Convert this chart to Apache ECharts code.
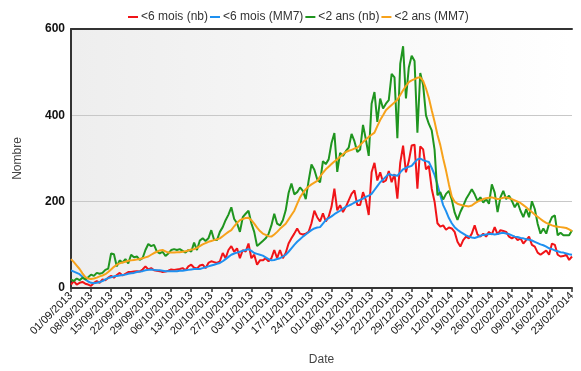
<!DOCTYPE html>
<html><head><meta charset="utf-8">
<script src="https://cdn.jsdelivr.net/npm/echarts@6/dist/echarts.min.js"></script>
<style>html,body{margin:0;padding:0;background:#fff}#c{width:581px;height:371px}</style>
</head><body><div id="c"></div>
<script>
// daily counts from 01/09/2013 to 23/02/2014 (176 days)
const startDate = [2013, 8, 1]; // year, monthIndex, day
const dayCount = 176;
const yTicks = [0, 200, 400, 600];
const seriesNames = ['<6 mois (nb)', '<6 mois (MM7)', '<2 ans (nb)', '<2 ans (MM7)'];

const under6nb = [8,16,8,12,14,10,8,5,12,16,12,20,18,24,28,24,30,35,29,33,37,37,38,39,38,43,50,43,46,41,
40,39,37,38,40,43,42,43,44,46,41,50,54,47,45,52,54,46,58,62,60,58,62,81,69,88,97,84,92,69,
88,84,103,69,77,54,64,64,69,62,69,88,69,88,69,81,103,115,126,138,126,124,126,130,150,179,164,154,173,154,
165,188,230,180,192,176,188,203,218,226,192,192,222,203,169,268,290,249,268,245,249,271,245,264,207,290,330,268,294,330,
332,230,328,321,275,283,230,200,150,142,145,135,140,138,130,107,96,111,119,115,126,145,124,119,126,119,130,124,141,124,
134,132,130,119,115,119,111,115,103,111,119,100,96,82,77,82,87,77,103,100,77,73,74,77,65,73];

const under6mm7 = [41,38,35,32,26,20,15,12,11,12,14,16,20,23,25,27,28,29,30,31,33,34,35,37,38,39,41,42,43,42,
41,41,40,39,39,39,39,39,40,40,41,42,43,44,44,44,46,48,50,52,54,56,58,62,67,72,77,80,82,84,
86,88,90,86,81,79,77,75,71,67,64,65,67,69,73,77,84,92,100,107,113,119,124,129,134,138,140,141,149,157,
162,166,171,175,179,184,188,191,194,198,201,204,207,211,214,218,227,236,245,251,258,264,262,261,260,268,275,278,281,283,
291,298,300,296,294,292,278,262,240,215,192,178,162,150,141,135,130,126,122,119,117,116,118,121,123,124,125,125,124,125,
127,128,126,125,122,119,118,116,115,113,112,110,107,104,101,99,96,92,90,87,85,83,82,80,78,77];

const under2nb = [20,16,22,18,24,20,25,31,28,35,33,35,42,45,80,78,50,64,59,67,57,77,71,73,65,69,88,102,97,100,
84,80,84,74,80,88,90,88,90,86,82,88,84,105,88,110,115,109,115,134,111,111,130,141,157,170,187,160,150,130,
164,172,179,150,130,97,103,109,115,125,145,172,149,145,157,180,220,242,217,222,233,225,206,248,286,274,252,245,294,287,
298,336,359,269,313,306,317,325,357,340,315,321,378,344,306,427,454,385,439,416,427,435,496,488,347,519,560,439,511,538,
526,360,498,470,400,380,365,320,215,222,205,218,225,205,175,158,176,190,206,217,229,217,202,210,198,206,195,240,221,176,
210,225,206,214,202,187,198,179,164,183,164,201,183,149,126,138,126,149,164,168,122,128,122,122,122,134];

const under2mm7 = [67,60,52,44,34,25,22,21,22,24,27,29,32,37,43,49,54,57,59,61,63,64,65,66,67,69,71,73,77,81,
84,87,88,85,82,82,82,83,83,84,85,87,89,90,93,97,101,104,107,109,111,113,115,120,125,130,134,143,151,157,
160,162,163,157,149,140,132,126,123,120,119,124,130,137,143,149,159,169,179,195,210,220,229,235,240,244,248,258,267,275,
281,287,293,298,304,310,315,318,320,323,325,331,338,344,350,355,360,375,389,400,412,418,424,430,436,447,458,468,477,481,
484,487,488,480,462,440,412,385,355,331,300,272,240,212,200,195,193,191,190,189,191,196,200,203,206,208,209,210,208,206,
207,209,210,208,206,203,200,197,192,187,181,176,170,165,160,155,151,148,145,143,142,141,140,139,136,132];

const colors = ['#f01418', '#1e90f0', '#1f951f', '#f7a21b'];

function pad(n){return (n<10?'0':'')+n;}
const dates = [];
for (let i = 0; i < dayCount; i++) {
  const d = new Date(startDate[0], startDate[1], startDate[2] + i);
  dates.push(pad(d.getDate()) + '/' + pad(d.getMonth()+1) + '/' + d.getFullYear());
}

const chart = echarts.init(document.getElementById('c'), null, {renderer: 'canvas'});
const FONT = 'Liberation Sans, Arial, sans-serif';
const vals = [under6nb, under6mm7, under2nb, under2mm7];
chart.setOption({
  animation: false,
  color: colors,
  textStyle: {fontFamily: FONT},
  legend: {
    top: 6, left: 123, itemGap: 2, itemWidth: 10, itemHeight: 2, icon: 'rect',
    textStyle: {fontSize: 12, color: '#333', fontFamily: FONT, padding: [0,0,0,-2]},
    data: seriesNames
  },
  grid: {
    left: 71, right: 9, top: 29, bottom: 79, show: true, borderWidth: 0,
    backgroundColor: new echarts.graphic.LinearGradient(0, 0, 1, 0, [
      {offset: 0, color: '#eeeeee'}, {offset: 1, color: '#ffffff'}
    ])
  },
  xAxis: [{
    type: 'category', data: dates, boundaryGap: false,
    name: 'Date', nameLocation: 'middle', nameGap: 66,
    nameTextStyle: {fontSize: 12, color: '#444', fontFamily: FONT},
    axisLine: {lineStyle: {color: '#333', width: 2}},
    axisTick: {interval: 6, length: 4, lineStyle: {color: '#333', width: 1.5}},
    axisLabel: {interval: 6, rotate: 45, fontSize: 11, color: '#111', margin: 6, fontFamily: FONT}
  }, {
    type: 'category', data: dates, boundaryGap: false, position: 'top',
    axisLine: {lineStyle: {color: '#333', width: 2}},
    axisTick: {show: false}, axisLabel: {show: false}
  }],
  yAxis: {
    type: 'value', min: yTicks[0], max: yTicks[yTicks.length-1], interval: 200,
    name: 'Nombre', nameLocation: 'middle', nameGap: 47,
    nameTextStyle: {fontSize: 12, color: '#444', fontFamily: FONT},
    axisLine: {show: true, lineStyle: {color: '#333', width: 2}},
    axisTick: {show: false},
    axisLabel: {fontSize: 12, color: '#111', fontWeight: 'bold', margin: 6, fontFamily: FONT},
    splitLine: {lineStyle: {color: '#c8c8c8', width: 1}}
  },
  series: seriesNames.map((n, i) => ({
    name: n, type: 'line', data: vals[i], showSymbol: false, symbol: 'none',
    lineStyle: {width: 2, color: colors[i]}, itemStyle: {color: colors[i]}
  }))
});
</script></body></html>
